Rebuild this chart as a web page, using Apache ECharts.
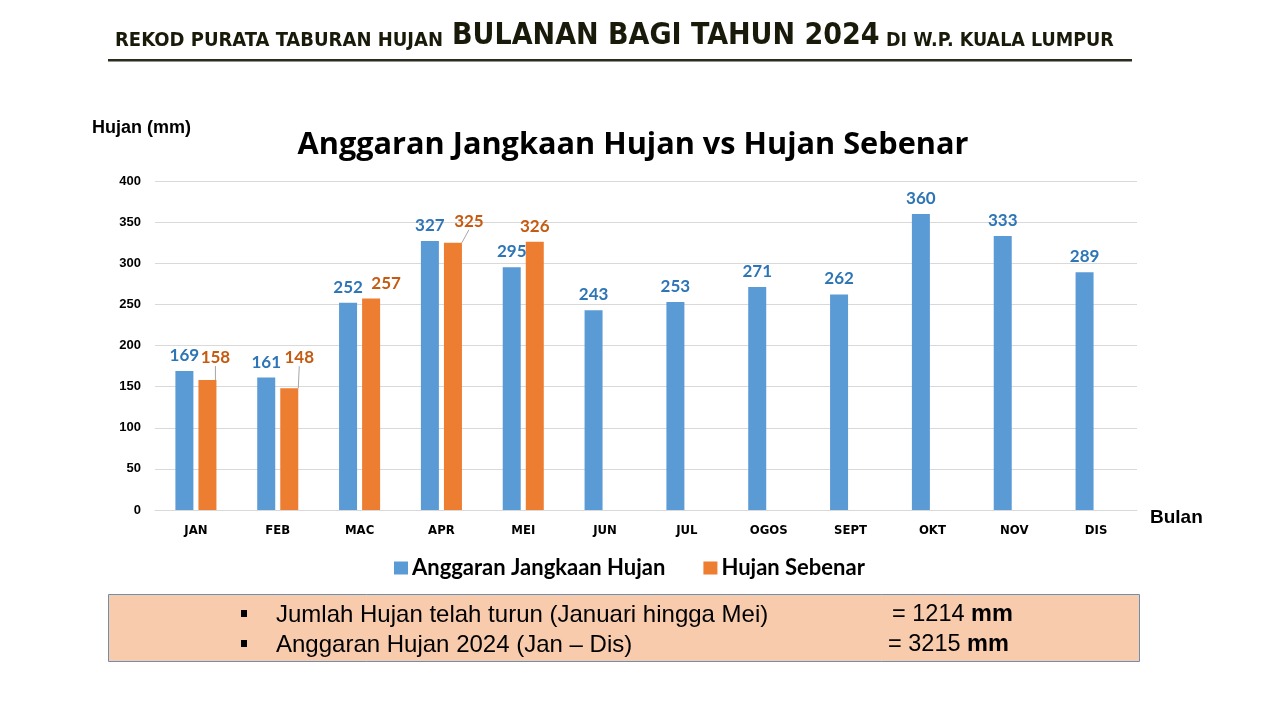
<!DOCTYPE html>
<html><head><meta charset="utf-8">
<script src="https://cdn.jsdelivr.net/npm/echarts@6/dist/echarts.min.js"></script>
<style>html,body{margin:0;padding:0;background:#fff}#c{width:1280px;height:720px}</style>
</head><body><div id="c"></div>
<script>
const months = ['JAN','FEB','MAC','APR','MEI','JUN','JUL','OGOS','SEPT','OKT','NOV','DIS'];
const anggaran = [169,161,252,327,295,243,253,271,262,360,333,289];
const sebenar = [158,148,257,325,326,null,null,null,null,null,null,null];
const yTicks = [0,50,100,150,200,250,300,350,400];
const seriesNames = ['Anggaran Jangkaan Hujan','Hujan Sebenar'];
const summaryLines = [
  ['Jumlah Hujan telah turun (Januari hingga Mei)', '= 1214 ', 'mm'],
  ['Anggaran Hujan 2024 (Jan \u2013 Dis)', '= 3215 ', 'mm']
];
// orange label displacements: [dx, dy, showLeaderLine]
const orangeMoves = {0:[8,-7,true],1:[10,-15,true],2:[15,0,false],3:[16,-6,true]};

const sebenarData = sebenar.map((v,i)=>{
  const m = orangeMoves[i];
  return {value:v, labelLine:{show: !!(m && m[2])}};
});

const chart = echarts.init(document.getElementById('c'));
const narrow = '"DejaVu Sans Condensed",sans-serif';
const hdr = '"DejaVu Sans Condensed",sans-serif';
const arial = 'Arial,"Liberation Sans",sans-serif';
chart.setOption({
  animation:false,
  title:{text:'Anggaran Jangkaan Hujan vs Hujan Sebenar',left:628,textAlign:'center',top:125,
    textStyle:{fontFamily:'"Open Sans",sans-serif',fontWeight:'bold',fontSize:30.7,color:'#000'}},
  legend:{data:seriesNames,top:552,left:389,itemWidth:14,itemHeight:13,itemGap:38,icon:'rect',
    textStyle:{fontFamily:'Lato,sans-serif',fontWeight:'bold',fontSize:22,color:'#000',padding:[0,0,0,-1]}},
  grid:{left:155,right:143,top:181,bottom:210},
  xAxis:{type:'category',data:months,axisTick:{show:false},
    axisLine:{lineStyle:{color:'#D9D9D9'}},
    axisLabel:{margin:14,fontFamily:narrow,fontWeight:'bold',fontSize:13,color:'#000'}},
  yAxis:{type:'value',min:0,max:400,interval:50,
    axisLabel:{margin:14,fontFamily:arial,fontWeight:'bold',fontSize:13,color:'#000'},
    splitLine:{lineStyle:{color:'#D9D9D9'}}},
  series:[
    {name:seriesNames[0],type:'bar',data:anggaran,barWidth:18,barGap:'28%',
     itemStyle:{color:'#5B9BD5'},
     label:{show:true,position:'top',distance:7,fontFamily:'Lato,sans-serif',fontWeight:'bold',fontSize:17,color:'#2E75B6'}},
    {name:seriesNames[1],type:'bar',data:sebenarData,barWidth:18,
     itemStyle:{color:'#ED7D31'},
     label:{show:true,position:'top',distance:7,fontFamily:'Lato,sans-serif',fontWeight:'bold',fontSize:17,color:'#C55A11'},
     labelLine:{show:true,lineStyle:{color:'#A6A6A6',width:1}},
     labelLayout:function(p){const m=orangeMoves[p.dataIndex];return m?{dx:m[0],dy:m[1]}:{};}}
  ],
  graphic:[
    {type:'text',left:115,top:31,style:{text:'REKOD PURATA TABURAN HUJAN',font:'bold 20px '+hdr,fill:'#1a1a0a'}},
    {type:'text',left:452,top:21,style:{text:'BULANAN BAGI TAHUN 2024',font:'bold 30px '+hdr,fill:'#1a1a0a'}},
    {type:'text',left:886,top:31,style:{text:'DI W.P. KUALA LUMPUR',font:'bold 19.5px '+hdr,fill:'#1a1a0a'}},
    {type:'rect',shape:{x:108,y:59,width:1024,height:2.5},style:{fill:'#2b2b1e'}},
    {type:'text',left:92,top:119,style:{text:'Hujan (mm)',font:'bold 18px '+arial,fill:'#000'}},
    {type:'text',left:1150,top:508,style:{text:'Bulan',font:'bold 19px '+arial,fill:'#000'}},
    {type:'rect',shape:{x:108.5,y:594.5,width:1031,height:67},style:{fill:'#F8CBAD',stroke:'#6F8FB0',lineWidth:1}},
    {type:'rect',shape:{x:241,y:610,width:6,height:7},style:{fill:'#000'}},
    {type:'rect',shape:{x:241,y:640,width:6,height:7},style:{fill:'#000'}},
    {type:'text',left:276,top:603,style:{text:summaryLines[0][0],font:'24px '+arial,fill:'#000'}},
    {type:'text',left:276,top:633,style:{text:summaryLines[1][0],font:'24px '+arial,fill:'#000'}},
    {type:'text',left:892,top:603,style:{text:'{a|'+summaryLines[0][1]+'}{b|'+summaryLines[0][2]+'}',rich:{a:{font:'23.5px '+arial,fill:'#000'},b:{font:'bold 23.5px '+arial,fill:'#000'}}}},
    {type:'text',left:888,top:633,style:{text:'{a|'+summaryLines[1][1]+'}{b|'+summaryLines[1][2]+'}',rich:{a:{font:'23.5px '+arial,fill:'#000'},b:{font:'bold 23.5px '+arial,fill:'#000'}}}}
  ]
});
</script></body></html>
